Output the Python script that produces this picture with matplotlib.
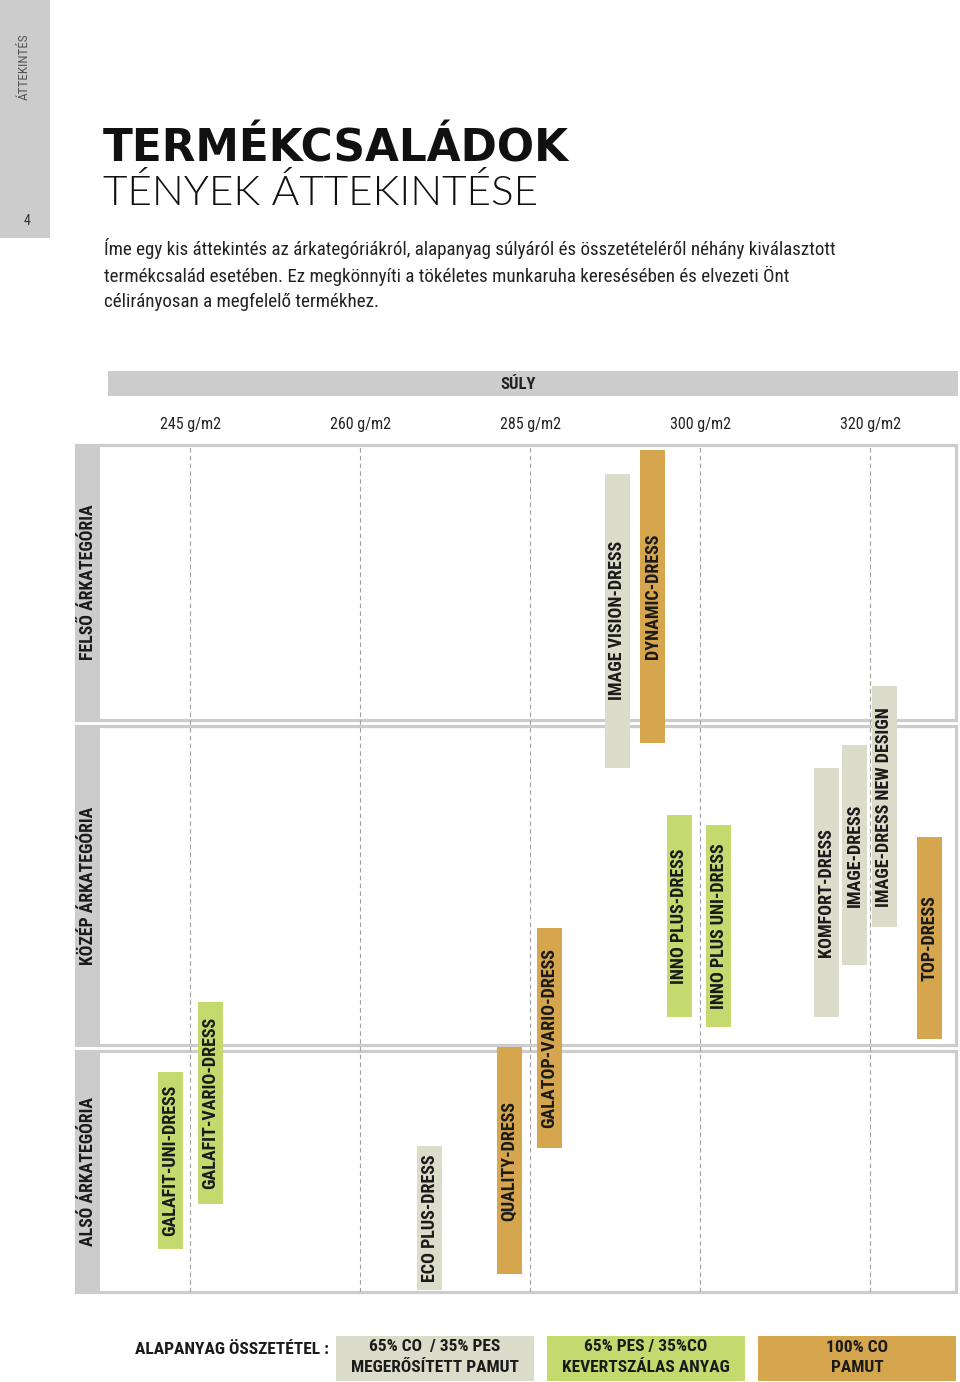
import os
import matplotlib.pyplot as plt
from matplotlib import font_manager as fm
from matplotlib.patches import Rectangle

GRAY = '#cccccc'

# header: weight columns
weights = ["245 g/m2", "260 g/m2", "285 g/m2", "300 g/m2", "320 g/m2"]

# price bands (price scale 0..100, bottom to top)
band_names = ["ALSÓ ÁRKATEGÓRIA", "KÖZÉP ÁRKATEGÓRIA", "FELSŐ ÁRKATEGÓRIA"]
band_lo = [0, 29.2, 67.5]
band_hi = [28.4, 66.8, 100]

# product families: position on weight axis, price range, material
products = ["GALAFIT-UNI-DRESS", "GALAFIT-VARIO-DRESS", "ECO PLUS-DRESS",
            "QUALITY-DRESS", "GALATOP-VARIO-DRESS", "IMAGE VISION-DRESS",
            "DYNAMIC-DRESS", "INNO PLUS-DRESS", "INNO PLUS UNI-DRESS",
            "KOMFORT-DRESS", "IMAGE-DRESS", "IMAGE-DRESS NEW DESIGN",
            "TOP-DRESS"]
prod_x = [-0.115, 0.121, 1.409, 1.879, 2.115, 2.512, 2.721,
          2.879, 3.109, 3.744, 3.909, 4.085, 4.35]
prod_lo = [5.1, 10.4, 0.2, 2.1, 17.0, 61.9, 64.8,
           32.5, 31.3, 32.5, 38.6, 43.1, 29.9]
prod_hi = [26.0, 34.2, 17.2, 28.9, 43.0, 96.6, 99.4,
           56.3, 55.1, 61.9, 64.6, 71.5, 53.7]
prod_mat = [1, 1, 0, 2, 2, 0, 2, 1, 1, 0, 0, 0, 2]

# materials legend
mat_line1 = ["65% CO  / 35% PES", "65% PES / 35%CO", "100% CO"]
mat_line2 = ["MEGERŐSÍTETT PAMUT", "KEVERTSZÁLAS ANYAG", "PAMUT"]
mat_colors = ["#dcdccb", "#c4da6f", "#d5a64e"]

intro = ("Íme egy kis áttekintés az árkategóriákról, alapanyag súlyáról és összetételéről néhány kiválasztott\n"
         "termékcsalád esetében. Ez megkönnyíti a tökéletes munkaruha keresésében és elvezeti Önt\n"
         "célirányosan a megfelelő termékhez.")


def narrow_font(bold):
    # look for any installed condensed / narrow face
    best = None
    for f in fm.fontManager.ttflist:
        n = os.path.basename(f.fname).lower()
        if 'italic' in n or 'oblique' in n:
            continue
        if not ('narrow' in n or 'condensed' in n or f.stretch == 'condensed'):
            continue
        is_bold = 'bold' in n or f.weight in ('bold', 700)
        if is_bold != bold:
            continue
        if any(k in n for k in ('light', 'thin', 'black', 'medium', 'semi', 'extra')):
            continue
        best = f.fname
        if 'liberation' in n or 'roboto' in n:
            break
    if best:
        return fm.FontProperties(fname=best)
    return fm.FontProperties(family='Roboto',
                             weight='bold' if bold else 'normal',
                             stretch='condensed')


def main():
    reg = narrow_font(False)
    bld = narrow_font(True)

    fig = plt.figure(figsize=(9.6, 13.82), dpi=100)

    # page layer in pixel coordinates
    pax = fig.add_axes([0, 0, 1, 1])
    pax.set_xlim(0, 960)
    pax.set_ylim(1382, 0)
    pax.axis('off')

    pax.add_patch(Rectangle((0, 0), 50, 238, color=GRAY, lw=0))
    pax.text(24, 67, "ÁTTEKINTÉS", rotation=90, ha='center', va='center',
             fontproperties=reg, fontsize=9.5, color='#555555')
    pax.text(27, 221, "4", ha='center', va='center', fontproperties=reg,
             fontsize=10, color='#333333')

    pax.text(103, 161, "TERMÉKCSALÁDOK", ha='left', va='baseline',
             fontsize=31.5, fontweight='bold', family='DejaVu Sans',
             color='#111111')
    pax.text(103, 205, "TÉNYEK ÁTTEKINTÉSE", ha='left', va='baseline',
             fontsize=30.5, fontweight=300, family=['Lato', 'DejaVu Sans'],
             color='#111111')
    pax.text(104, 238, intro, ha='left', va='top', fontproperties=reg,
             fontsize=13.7, color='#222222', linespacing=1.45)

    pax.add_patch(Rectangle((108, 371), 850, 25, color=GRAY, lw=0))
    pax.text(518, 384, "SÚLY", ha='center', va='center', fontproperties=bld,
             fontsize=12, color='#222222')

    # legend
    pax.text(135, 1350, "ALAPANYAG ÖSSZETÉTEL :", ha='left', va='center',
             fontproperties=bld, fontsize=12.5, color='#1a1a1a')
    for i, c in enumerate(mat_colors):
        x0 = 336 + 211 * i
        pax.add_patch(Rectangle((x0, 1336), 198, 45, color=c, lw=0))
        pax.text(x0 + 99, 1347, mat_line1[i], ha='center', va='center',
                 fontproperties=bld, fontsize=12.5, color='#1a1a1a')
        pax.text(x0 + 99, 1368, mat_line2[i], ha='center', va='center',
                 fontproperties=bld, fontsize=12.5, color='#1a1a1a')

    # chart layer: x = weight column, y = price scale
    ax = fig.add_axes([70 / 960, (1382 - 1292) / 1382,
                       (962 - 70) / 960, (1292 - 445) / 1382])
    ax.set_xlim((70 - 190) / 170, (962 - 190) / 170)
    ax.set_ylim(0, 100)
    ax.patch.set_alpha(0)
    for s in ax.spines.values():
        s.set_visible(False)
    ax.set_yticks([])
    ax.xaxis.tick_top()
    ax.set_xticks(range(len(weights)))
    ax.set_xticklabels(weights, fontproperties=reg, color='#222222')
    for t in ax.get_xticklabels():
        t.set_fontsize(11.5)
    ax.tick_params(axis='x', length=0, pad=9)

    f_left, f_right, strip_right = -0.668, 4.507, -0.529
    for i, name in enumerate(band_names):
        lo, hi = band_lo[i], band_hi[i]
        ax.add_patch(Rectangle((f_left, lo), f_right - f_left, hi - lo,
                               facecolor='white', edgecolor=GRAY, lw=2.3,
                               zorder=1, clip_on=False))
        ax.add_patch(Rectangle((f_left, lo), strip_right - f_left, hi - lo,
                               facecolor=GRAY, lw=0, zorder=1.5,
                               clip_on=False))
        ax.text((f_left + strip_right) / 2, (lo + hi) / 2, name,
                rotation=90, ha='center', va='center', fontproperties=bld,
                fontsize=12.8, color='#1a1a1a', zorder=2)

    ax.vlines(range(len(weights)), 0, 100, colors='#a0a0a0',
              linestyles=(0, (4, 3)), lw=0.8, zorder=2)

    heights = [h - l for l, h in zip(prod_lo, prod_hi)]
    colors = [mat_colors[m] for m in prod_mat]
    ax.bar(prod_x, heights, bottom=prod_lo, width=0.147, color=colors,
           zorder=3)
    for x, l, h, name in zip(prod_x, prod_lo, prod_hi, products):
        ax.text(x, (l + h) / 2, name, rotation=90, ha='center', va='center',
                fontproperties=bld, fontsize=13, color='#1a1a1a', zorder=4)

    fig.savefig("out.png", dpi=100)


if __name__ == "__main__":
    main()
